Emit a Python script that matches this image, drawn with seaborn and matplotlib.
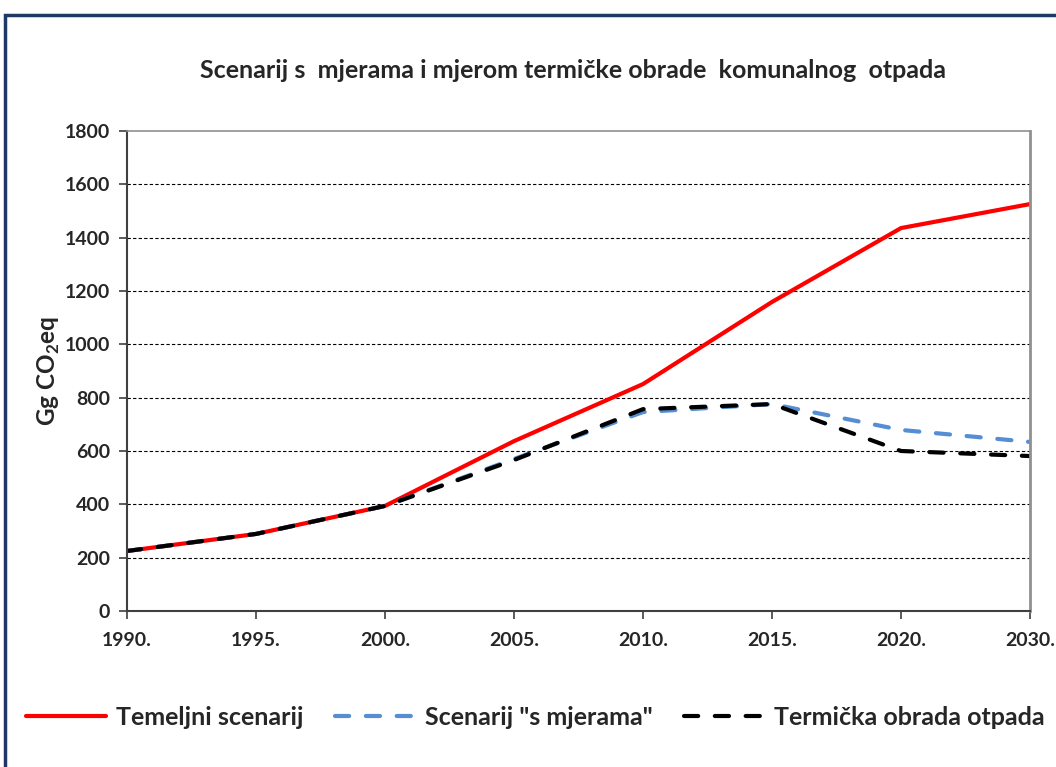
import matplotlib
matplotlib.use("Agg")
import matplotlib.pyplot as plt
from matplotlib.patches import Rectangle
import seaborn as sns
import pandas as pd

years = ["1990.", "1995.", "2000.", "2005.", "2010.", "2015.", "2020.", "2030."]
temeljni = [225, 289, 394, 637, 851, 1159, 1436, 1526]
s_mjerama = [225, 289, 394, 570, 746, 776, 679, 634]
termicka = [225, 289, 394, 566, 757, 776, 600, 581]
series_names = ["Temeljni scenarij", "Scenarij \"s mjerama\"", "Termička obrada otpada"]
yticks = [0, 200, 400, 600, 800, 1000, 1200, 1400, 1600, 1800]

sns.set_style("white")
plt.rcParams["font.family"] = ["Lato", "DejaVu Sans"]
plt.rcParams["mathtext.fontset"] = "custom"
plt.rcParams["mathtext.rm"] = "Lato"
plt.rcParams["mathtext.bf"] = "Lato:bold"

df = pd.DataFrame({
    "year": years * 3,
    "value": temeljni + s_mjerama + termicka,
    "series": [series_names[0]] * 8 + [series_names[1]] * 8 + [series_names[2]] * 8,
})
df["pos"] = list(range(8)) * 3

fig = plt.figure(figsize=(10.56, 7.67), dpi=100)
ax = fig.add_axes([0.1203, 0.2034, 0.9754 - 0.1203, 0.8292 - 0.2034])

palette = {series_names[0]: "#FF0000", series_names[1]: "#558ED5", series_names[2]: "#000000"}
sns.lineplot(data=df, x="pos", y="value", hue="series", palette=palette,
             hue_order=series_names, ax=ax, linewidth=3, legend=False, sort=False)

for line, name in zip(ax.get_lines(), series_names):
    line.set_solid_capstyle("round")
    if name != series_names[0]:
        line.set_dashes((3.4, 4.0))
        line.set_dash_capstyle("round")
    line.set_label(name)

ax.set_xlim(0, 7)
ax.set_ylim(0, 1800)
ax.set_xticks(range(8))
ax.set_xticklabels(years)
ax.set_yticks(yticks)
ax.set_yticklabels([str(v) for v in yticks])
for t in ax.get_xticklabels() + ax.get_yticklabels():
    t.set_fontweight("bold")
    t.set_fontsize(14)
ax.tick_params(axis="both", which="major", direction="out", length=6, width=1.2,
               color="#404040", left=True, bottom=True)
ax.tick_params(axis="x", pad=9)
ax.tick_params(axis="y", pad=6)

for v in yticks[1:-1]:
    ax.axhline(v, color="black", linestyle=(0, (3, 2)), linewidth=0.8, zorder=0)

ax.spines["left"].set_color("#404040")
ax.spines["bottom"].set_color("#404040")
ax.spines["left"].set_linewidth(1.5)
ax.spines["bottom"].set_linewidth(1.5)
ax.spines["top"].set_color("#909090")
ax.spines["right"].set_color("#909090")
ax.spines["top"].set_linewidth(1.2)
ax.spines["right"].set_linewidth(2)

ax.set_xlabel("")
ax.set_ylabel(r"Gg CO$_\mathbf{2}$eq", fontsize=17.5, fontweight="bold", labelpad=2)

fig.text(0.543, 0.908, "Scenarij s  mjerama i mjerom termičke obrade  komunalnog  otpada",
         ha="center", va="center", fontsize=18, fontweight="bold")

leg = fig.legend(handles=ax.get_lines(), labels=series_names, loc="center",
                 bbox_to_anchor=(0.507, 0.065), ncol=3, frameon=False,
                 prop={"size": 18, "weight": "bold"},
                 handlelength=3.2, handletextpad=0.4, columnspacing=1.25)

fig.add_artist(Rectangle((0.005, -0.02), 1.2, 0.9804 + 0.02, transform=fig.transFigure,
                         fill=False, edgecolor="#1F3864", linewidth=2.5))

fig.savefig("out.png", dpi=100)
